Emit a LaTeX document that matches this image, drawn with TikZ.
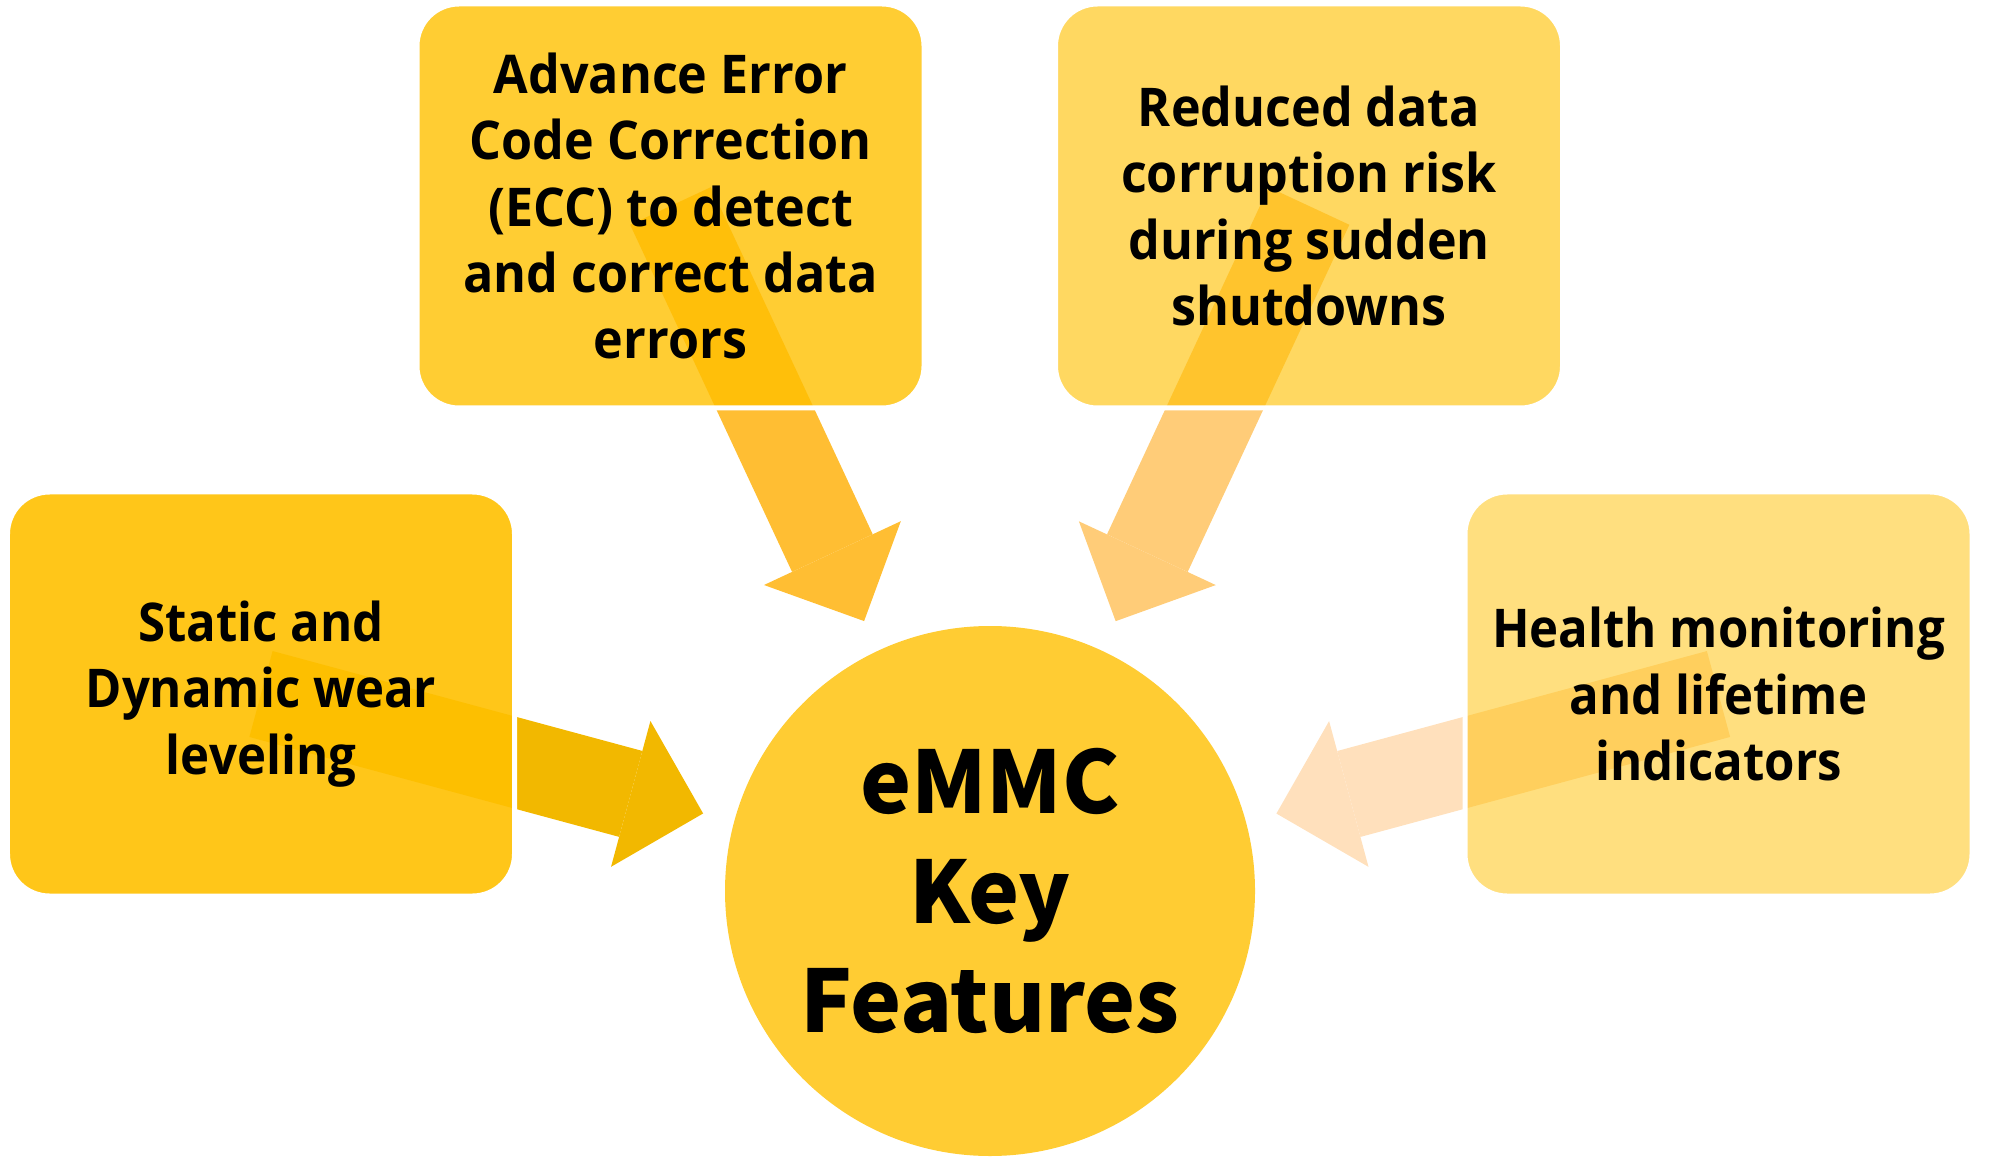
\documentclass[tikz,border=0pt]{standalone}
\usepackage{fontspec}
\usepackage{tikz}
\usetikzlibrary{arrows.meta, positioning, calc, backgrounds}
\setmainfont{Open Sans}
\newfontfamily\topfont[FakeStretch=0.94]{Open Sans}
\newfontfamily\sidefont[FakeStretch=0.92]{Open Sans}
\newfontfamily\hubfont{Noto Sans CJK SC}
\definecolor{gold}{HTML}{FFC000}
\definecolor{hubgold}{HTML}{FFCC33}
\definecolor{arrowdark}{HTML}{F2B800}
\definecolor{arrowmid}{HTML}{FFBE33}
\definecolor{arrowlight}{HTML}{FFCC78}
\definecolor{arrowpale}{HTML}{FFE0BC}

\begin{document}
\begin{tikzpicture}[
  feat/.style={rectangle,rounded corners=0.42cm,minimum width=5.07cm,minimum height=4.04cm,fill=gold,draw=white,line width=0.05cm,text opacity=1,align=center,inner sep=2pt},
  topfeat/.style={feat,font=\topfont\fontsize{15.2}{18.9}\selectfont\bfseries},
  sidefeat/.style={feat,font=\sidefont\fontsize{15.2}{19}\selectfont\bfseries},
  hub/.style={circle,fill=hubgold,minimum size=5.3cm,inner sep=0pt,align=center,font=\hubfont\fontsize{24.5}{31.2}\selectfont\bfseries},
  blockarr/.style={line width=0.89cm,-{Triangle[length=0.75cm,width=1.51cm,line width=0pt]}}
]
\useasboundingbox (0,0) rectangle (20.04,11.6);
\node[hub] (core) at (9.90,2.69) {eMMC\\Key\\Features};
\node[sidefeat, fill opacity=0.9] (wear) at (2.61,4.66) {Static and\\Dynamic wear\\leveling};
\node[topfeat, fill opacity=0.8] (ecc) at (6.705,9.54) {Advance Error\\Code Correction\\(ECC) to detect\\and correct data\\errors};
\node[topfeat, fill opacity=0.62, right=1.265cm of ecc] (power) {Reduced data\\corruption risk\\during sudden\\shutdowns};
\node[sidefeat, fill opacity=0.5] (health) at (17.185,4.66) {Health monitoring\\and lifetime\\indicators};
\coordinate (wearTip) at ($(wear.center)!4.58cm!(core.center)$);
\coordinate (eccTip) at ($(ecc.center)!4.58cm!(core.center)$);
\coordinate (powerTip) at ($(power.center)!4.58cm!(core.center)$);
\coordinate (healthTip) at ($(health.center)!4.58cm!(core.center)$);
\begin{scope}[on background layer]
\draw[blockarr, arrowdark] (wear.center) -- (wearTip);
\draw[blockarr, arrowmid] (ecc.center) -- (eccTip);
\draw[blockarr, arrowlight] (power.center) -- (powerTip);
\draw[blockarr, arrowpale] (health.center) -- (healthTip);
\end{scope}
\end{tikzpicture}
\end{document}
